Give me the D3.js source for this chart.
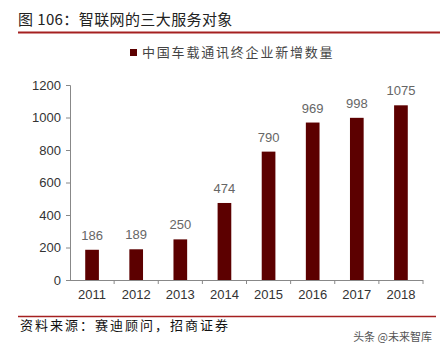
<!DOCTYPE html>
<html><head><meta charset="utf-8">
<script src="https://cdn.jsdelivr.net/npm/d3@7"></script>
<style>body{margin:0;background:#fff;}svg{display:block;}</style>
</head><body>
<script>
const categories = ["2011","2012","2013","2014","2015","2016","2017","2018"];
const values = [186,189,250,474,790,969,998,1075];
const yTicks = [0,200,400,600,800,1000,1200];
const title = "图 106：智联网的三大服务对象";
const seriesName = "中国车载通讯终企业新增数量";
const source = "资料来源：赛迪顾问，招商证券";
const watermark = "头条 @未来智库";

const W = 444, H = 350;
const svg = d3.select("body").append("svg").attr("width", W).attr("height", H);
const font = "'Noto Sans CJK SC','Noto Sans',sans-serif";

svg.append("text").attr("x", 18).attr("y", 25).text(title)
  .attr("font-family", font).attr("font-size", 15).attr("letter-spacing", 0.4).attr("fill", "#222");
svg.append("line").attr("x1", 18).attr("x2", 440).attr("y1", 32.5).attr("y2", 32.5)
  .attr("stroke", "#a52020").attr("stroke-width", 2);

// legend
svg.append("rect").attr("x", 130).attr("y", 49).attr("width", 7).attr("height", 7).attr("fill", "#5c0000");
svg.append("text").attr("x", 142).attr("y", 57).text(seriesName)
  .attr("font-family", font).attr("font-size", 13).attr("letter-spacing", 1.8).attr("fill", "#444");

const x = d3.scaleBand().domain(categories).range([70, 423]).paddingInner(0.69).paddingOuter(0.345);
const y = d3.scaleLinear().domain([0, 1200]).range([280, 85]);

const yAxis = svg.append("g").attr("transform", "translate(70,0)")
  .call(d3.axisLeft(y).tickValues(yTicks).tickSize(4).tickPadding(5).tickFormat(d3.format("d")));
yAxis.selectAll("path,line").attr("stroke", "#888");
yAxis.selectAll("text").attr("font-family", "'Liberation Sans',Arial,sans-serif").attr("font-size", 13).attr("fill", "#333");
yAxis.select(".domain").attr("d", "M-4,85.5H0.5V280.5");

const xb = d3.scaleBand().domain(categories).range([70, 423]);
const xAxis = svg.append("g").attr("transform", "translate(0,280)")
  .call(d3.axisBottom(xb).tickSize(0).tickPadding(10));
xAxis.selectAll("path").attr("stroke", "#888").attr("d", "M70,0.5H423");
xAxis.selectAll("text").attr("font-family", "'Liberation Sans',Arial,sans-serif").attr("font-size", 13).attr("fill", "#333");
// boundary ticks
xAxis.selectAll("line.b").data(categories).enter().append("line").attr("class","b")
  .attr("x1", d => xb(d) + xb.bandwidth()).attr("x2", d => xb(d) + xb.bandwidth())
  .attr("y1", 0).attr("y2", 4).attr("stroke", "#888");

svg.selectAll("rect.bar").data(values).enter().append("rect").attr("class","bar")
  .attr("x", (d,i) => x(categories[i])).attr("width", x.bandwidth())
  .attr("y", d => y(d)).attr("height", d => y(0) - y(d)).attr("fill", "#5c0000");

svg.selectAll("text.val").data(values).enter().append("text").attr("class","val")
  .attr("x", (d,i) => x(categories[i]) + x.bandwidth()/2).attr("y", d => y(d) - 10)
  .attr("text-anchor", "middle").text(d => d)
  .attr("font-family", "'Liberation Sans',Arial,sans-serif").attr("font-size", 13).attr("fill", "#666");

svg.append("line").attr("x1", 18).attr("x2", 436).attr("y1", 316.5).attr("y2", 316.5)
  .attr("stroke", "#a52020").attr("stroke-width", 1.5);
svg.append("text").attr("x", 20).attr("y", 330).text(source)
  .attr("font-family", font).attr("font-size", 13).attr("letter-spacing", 2).attr("fill", "#111");
svg.append("text").attr("x", 432).attr("y", 341).attr("text-anchor", "end").text(watermark)
  .attr("font-family", font).attr("font-size", 11).attr("fill", "#555");
</script>
</body></html>
